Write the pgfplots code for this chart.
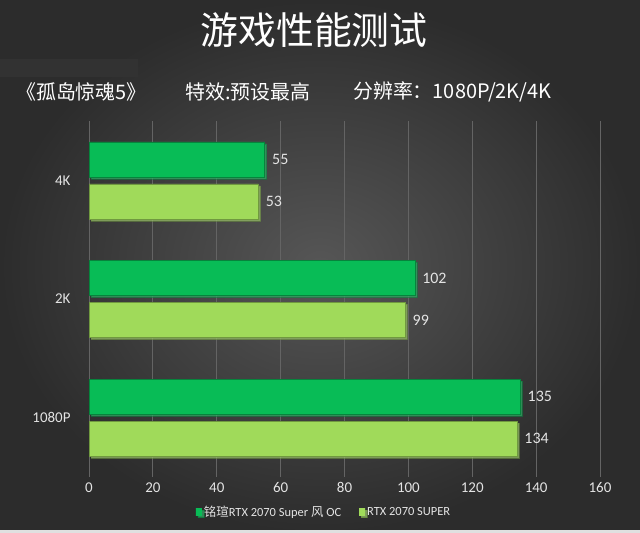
\documentclass[border=0pt]{standalone}
\usepackage{fontspec}
\setmainfont{Carlito}
\newfontfamily\cjk{Noto Sans CJK SC}
\usepackage{pgfplots}
\pgfplotsset{compat=1.18}
\usetikzlibrary{shadows}
\definecolor{bgin}{RGB}{86,86,86}
\definecolor{bgout}{RGB}{44,44,44}
\definecolor{darkg}{RGB}{8,188,86}
\definecolor{lightg}{RGB}{160,218,90}
\definecolor{txt}{RGB}{228,228,228}
\definecolor{gridc}{RGB}{100,100,100}
\definecolor{patch}{RGB}{50,50,50}
\pgfdeclareverticalshading{bevelD}{100bp}{color(0bp)=(darkg!60!black); color(7bp)=(darkg!85!black);
  color(12bp)=(darkg); color(86bp)=(darkg); color(92bp)=(darkg!60!white); color(100bp)=(darkg!75!white)}
\pgfdeclareverticalshading{bevelL}{100bp}{color(0bp)=(lightg!60!black); color(7bp)=(lightg!85!black);
  color(12bp)=(lightg); color(86bp)=(lightg); color(92bp)=(lightg!60!white); color(100bp)=(lightg!75!white)}

\begin{document}
\begin{tikzpicture}[x=1bp,y=1bp]
% background
\shade[inner color=bgin, outer color=bgout] (0,0) rectangle (640,533);
\fill[patch] (0,456) rectangle (138,474);
\fill[black!12] (0,0) rectangle (640,3);
% titles
\node[text=white, font=\cjk\fontsize{38}{40}\selectfont] at (314,503) {游戏性能测试};
\node[anchor=west, text=white, font=\cjk\fontsize{20}{22}\selectfont, inner sep=0] at (16,441) {《孤岛惊魂5》};
\node[anchor=west, text=white, font=\cjk\fontsize{20}{22}\selectfont, inner sep=0] at (185,441) {特效:预设最高};
\node[anchor=west, text=white, font=\cjk\fontsize{20}{22}\selectfont, inner sep=0] at (353,441) {分辨率：1080P/2K/4K};

\begin{axis}[
    at={(89bp,56bp)}, anchor=south west,
    scale only axis,
    width=511bp, height=356bp,
    xbar, bar width=35bp,
    xmin=0, xmax=160,
    ymin=-0.5, ymax=2.5,
    xtick={0,20,...,160},
    ytick={0,1,2},
    yticklabels={1080P,2K,4K},
    axis line style={draw=none},
    major tick length=0pt,
    xmajorgrids,
    major grid style={draw=gridc, line width=0.8pt},
    extra x ticks={0},
    extra x tick labels={},
    extra x tick style={grid style={draw=txt!75!black, line width=1.2pt}},
    ticklabel style={text=txt, font=\fontsize{15}{17}\selectfont},
    /pgf/number format/assume math mode=true,
    xticklabel style={yshift=-2bp},
    yticklabel style={xshift=-15bp},
    point meta=x,
    nodes near coords,
    nodes near coords style={text=txt, font=\fontsize{16}{18}\selectfont, anchor=west, xshift=4bp},
    legend style={at={(0.46,-0.098)}, anchor=center, draw=none, fill=none,
        text=txt, font=\fontsize{12.5}{14}\selectfont,
        /tikz/every even column/.append style={column sep=16bp}},
    legend columns=2,
    legend image code/.code={\fill[#1, draw=none] (0bp,-3.5bp) rectangle (6bp,3.5bp);},
]
\addplot[shading=bevelD, draw=darkg!70!black, bar shift=21bp,
    drop shadow={shadow xshift=2bp, shadow yshift=-2bp, opacity=0.5}] coordinates {(135,0) (102,1) (55,2)};
\addplot[shading=bevelL, draw=lightg!70!black, bar shift=-21bp,
    drop shadow={shadow xshift=2bp, shadow yshift=-2bp, opacity=0.5}] coordinates {(134,0) (99,1) (53,2)};
\legend{{\cjk 铭瑄}RTX 2070 Super {\cjk 风} OC, RTX 2070 SUPER}
\end{axis}
\end{tikzpicture}
\end{document}
